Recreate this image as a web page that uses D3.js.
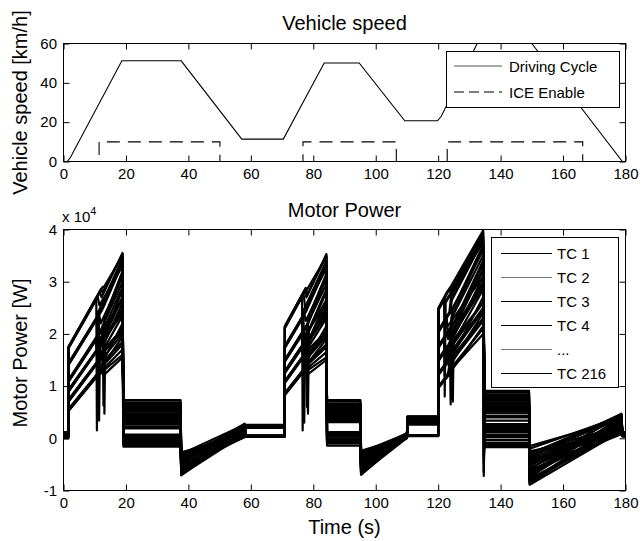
<!DOCTYPE html>
<html>
<head>
<meta charset="utf-8">
<script src="https://cdnjs.cloudflare.com/ajax/libs/d3/7.8.5/d3.min.js"></script>
<style>
  body { margin: 0; background: #fff; }
  svg text { font-family: "Liberation Sans", Arial, sans-serif; fill: #000; }
</style>
</head>
<body>
<div id="chart"></div>
<script>
// ---- vehicle speed (top plot) ----
var speedTime = [0, 1.2, 2.2, 18.7, 37.7, 57.1, 70.4, 83.5, 94.7, 109.3, 119.8, 121.0, 132.5, 134.2, 148.6, 150.0, 179.0, 180];
var speedValue = [0, 0, 2, 51.2, 51.2, 11.4, 11.4, 50.1, 50.1, 20.7, 20.7, 23.0, 60, 64, 64, 60, 0, 0];

var iceTime = [0, 11.4, 11.4, 50.1, 50.1, 76.7, 76.7, 106.6, 106.6, 122.9, 122.9, 166.3, 166.3, 180];
var iceValue = [0, 0, 10, 10, 0, 0, 10, 10, 0, 0, 10, 10, 0, 0];

var speedTicksX = [0, 20, 40, 60, 80, 100, 120, 140, 160, 180];
var speedTicksY = [0, 20, 40, 60];
var powerTicksY = [-10000, 0, 10000, 20000, 30000, 40000];

// ---- motor power (bottom plot), one value per drawn test case ----
// phase time spans [start, end] in s
var startSpan = [0, 1.5];
var accel1Span = [1.6, 18.9];
var cruise1Span = [19.2, 37.5];
var decel1Span = [37.7, 58.0];
var cruise2Span = [58.3, 70.8];
var accel2Span = [70.9, 84.2];
var cruise3Span = [84.4, 95.1];
var decel2Span = [95.3, 110.0];
var cruise4Span = [110.2, 120.0];
var accel3Span = [120.1, 134.4];
var cruise5Span = [134.6, 149.1];
var decel3Span = [149.3, 178.7];
var endSpan = [179.0, 180];

var startPower = [200, 400, 600, 800, 1000, 1200, 300, 500, 700, 900, 1100, 0, 250, 450, 650, 850, 1050, 150, 350, 550,
  100, 300, 500, 700, 900, 1100, 200, 400, 600, 800, 1000, 1200];

var accel1Start = [5300, 5400, 5600, 5300, 7200, 7300, 7100, 9100, 9200, 9000, 11000, 11100, 10900, 11000, 14200, 14300, 14100, 17400, 17300, 17500,
  5500, 7000, 7400, 9300, 8900, 10800, 11200, 14000, 14400, 17200, 17600, 5200];
var accel1Ice = [10.4, 11.6, 12.8, 11.0, 10.2, 11.8, 12.4, 10.8, 11.5, 12.9, 10.3, 11.2, 12.0, 12.6, 10.6, 11.4, 12.2, 10.5, 11.7, 12.5,
  11.9, 10.9, 12.3, 10.7, 12.1, 11.3, 12.7, 11.1, 12.3, 11.0, 12.0, 12.2];
var accel1PreIce = [11700, 12700, 13800, 12100, 14000, 15400, 15700, 16900, 17600, 18700, 18900, 19800, 20400, 21100, 22900, 23800, 24400, 26800, 28000, 29000,
  13000, 14400, 15900, 17000, 17900, 19600, 21400, 23200, 24800, 27100, 28600, 12900];
var accel1Dip = [null, null, null, null, null, null, null, null, null, 4700, null, 3400, null, 6300, null, null, null, 1500, null, null,
  null, null, null, null, null, null, null, null, null, null, null, null];
var accel1PostIce = [12000, 13500, 15500, 12500, 14000, 16500, 18000, 13000, 17500, 20000, 15000, 19000, 21500, 23000, 17000, 22000, 25000, 24000, 27000, 29000,
  14500, 16000, 19000, 15500, 20500, 18000, 22500, 20000, 26000, 25500, 28000, 12000];
var accel1End = [16000, 19500, 22000, 17000, 20000, 23500, 26000, 18000, 24500, 28500, 21000, 27000, 30000, 32000, 25000, 31000, 33500, 34500, 35500, 35000,
  18500, 21000, 27000, 20500, 29000, 24000, 31500, 26500, 34000, 33000, 35300, 15500];

var cruise1 = [7300, 6600, 6100, 5600, 5100, 4600, 4100, 3600, 3100, 2600, 2200, 1900, 700, 400, 100, -200, -500, -900, -1300, -1600,
  6900, 6400, 5800, 5300, 4800, 4300, 3800, 3300, 2800, 550, -50, -1100];
var decel1Start = [-2700, -3000, -3300, -3600, -3900, -4200, -4500, -4800, -5100, -5400, -5700, -6000, -6300, -6600, -6900, -7100, -3200, -4000, -5000, -6200,
  -2900, -3500, -4100, -4700, -5300, -5900, -6500, -7000, -3400, -4400, -5600, -6800];
var decel1End = [600, 2600, 1200, 2200, 400, 1800, 900, 2500, 200, 1500, 2000, 700, 2700, 1100, 2300, 1600, 300, 1900, 800, 2400,
  1000, 2100, 500, 2600, 1400, 300, 2300, 800, 1700, 2800, 1300, 1900];
var cruise2 = [2500, 2300, 2100, 2600, 2400, 2200, 2000, 2500, 2300, 2100, 400, 300, 500, 400, 300, 500, 450, 350, 2450, 350,
  2550, 2350, 2150, 400, 300, 2250, 2400, 450, 2050, 350, 2500, 500];

var accel2Start = [8500, 8600, 8400, 8500, 10800, 10900, 10700, 12700, 12800, 12600, 14900, 15000, 14800, 14900, 17500, 17600, 17400, 21300, 21200, 21400,
  8700, 10600, 11000, 12900, 12500, 14700, 15100, 17300, 17700, 21100, 21500, 8300];
var accel2Ice = [76.4, 77.2, 78.0, 76.8, 76.3, 77.4, 77.9, 76.6, 77.0, 78.1, 76.2, 76.9, 77.6, 77.8, 76.5, 77.1, 77.7, 76.4, 77.3, 77.5,
  77.0, 76.7, 77.8, 76.3, 77.5, 76.8, 77.9, 76.6, 77.4, 76.9, 77.6, 77.2];
var accel2PreIce = [12700, 13400, 13800, 13000, 15300, 16300, 16500, 17800, 18300, 19000, 20000, 20700, 21200, 21500, 23200, 23900, 24300, 27400, 28300, 28700,
  13300, 15400, 16700, 17700, 18300, 20200, 21700, 23000, 24200, 27600, 28800, 13000];
var accel2Dip = [null, null, null, null, null, null, null, null, null, 4700, null, 3000, null, 6000, null, null, null, 1500, null, null,
  null, null, null, null, null, null, null, null, null, null, null, null];
var accel2PostIce = [12500, 14000, 15500, 13000, 14500, 17000, 18000, 13500, 18000, 20500, 16000, 19500, 22000, 23000, 17500, 22500, 25000, 24500, 27000, 28500,
  14000, 15500, 18500, 15000, 20000, 17500, 22000, 19500, 25500, 25000, 27500, 12000];
var accel2End = [15500, 19000, 21500, 16500, 19500, 23000, 25500, 17500, 24000, 28000, 20500, 26500, 29500, 31500, 24500, 30500, 33000, 34000, 35300, 34800,
  18000, 20500, 26500, 20000, 28500, 23500, 31000, 26000, 33500, 32500, 35000, 15000];

var cruise3 = [7300, 6600, 6200, 5800, 5400, 5000, 4600, 4200, 3800, 3400, 3100, 1200, 900, 600, 300, 0, -300, -700, -1000, -1400,
  7000, 6400, 6000, 5600, 5200, 4800, 4400, 4000, 3600, 1050, 450, -500];
var decel2Start = [-2400, -2700, -3000, -3300, -3600, -3900, -4200, -4500, -4800, -5100, -5400, -5700, -6000, -6300, -6600, -7000, -2900, -3800, -4900, -6100,
  -2600, -3200, -3800, -4400, -5000, -5600, -6200, -6800, -3100, -4100, -5300, -6500];
var decel2End = [300, 900, 100, 700, 500, 1000, 200, 800, 0, 600, 400, 950, 150, 750, 350, 550, 50, 850, 250, 650,
  450, 850, 150, 700, 250, 950, 550, 100, 800, 400, 650, 300];
var cruise4 = [4200, 4000, 3800, 3600, 3400, 3200, 3000, 2800, 2600, 4100, 3700, 3300, 2900, 500, 450, 550, 500, 400, 3900, 600,
  4150, 3950, 3750, 3550, 3350, 3150, 2950, 2750, 450, 550, 4000, 500];

var accel3Start = [9800, 9900, 9700, 9800, 12300, 12400, 12200, 15000, 15100, 14900, 17500, 17600, 17400, 17500, 20500, 20600, 20400, 24800, 24700, 24900,
  10000, 12100, 12500, 15200, 14800, 17300, 17700, 20300, 20700, 24600, 25000, 9600];
var accel3Ice = [122.6, 123.4, 124.3, 123.0, 122.4, 123.6, 124.1, 122.8, 123.2, 124.5, 121.9, 123.1, 123.8, 124.0, 122.7, 123.3, 123.9, 121.9, 123.5, 123.7,
  123.2, 122.5, 123.9, 122.9, 124.1, 123.4, 124.4, 122.6, 123.6, 122.1, 123.0, 123.8];
var accel3PreIce = [11700, 12400, 12900, 12000, 14200, 15300, 15500, 17400, 17800, 18800, 19200, 20400, 20900, 21200, 23100, 23800, 24200, 26800, 28400, 28800,
  12300, 14100, 15600, 17700, 18300, 20400, 21700, 22800, 24200, 26800, 28200, 12400];
var accel3Dip = [null, null, null, null, null, null, null, null, null, 7000, 12000, null, 6500, null, null, null, null, 8000, null, null,
  null, null, 7500, null, null, null, null, null, null, null, null, null];
var accel3PostIce = [12500, 14000, 16000, 13000, 15000, 17500, 19000, 14000, 18500, 21000, 17000, 20500, 23000, 24500, 19000, 24000, 26500, 26000, 28000, 28500,
  15000, 16500, 20000, 16000, 21500, 19000, 24000, 21500, 27000, 26500, 28500, 13000];
var accel3End = [20000, 24000, 27000, 21000, 24500, 28500, 31000, 22500, 29500, 33500, 26000, 32000, 35000, 37000, 30000, 36000, 38000, 38500, 39500, 39000,
  23000, 26000, 32500, 25000, 34000, 29000, 36500, 31000, 38500, 37500, 39800, 21500];

var cruise5 = [9100, 8400, 7800, 7200, 6600, 6000, 5400, 4800, 4300, 3400, 2700, 2200, 1800, 1200, 700, 200, -300, -800, -1300, -1700,
  8800, 8100, 7500, 6900, 6300, 5700, 5100, 4000, 2500, 1500, 400, -1000];
var cruise5Dip = [null, null, null, null, null, -7200, null, null, null, null, null, null, -5000, null, null, null, null, -3500, null, null,
  null, null, null, null, null, null, -6500, null, null, null, null, null];
var decel3Start = [-2500, -2900, -3300, -3700, -4100, -4500, -4900, -5300, -5700, -6100, -6500, -6900, -7300, -7700, -8100, -8500, -8900, -3000, -4700, -1500,
  -2700, -3500, -4300, -5100, -5900, -6700, -7500, -8300, -2000, -3900, -6300, -8700];
var decel3End = [1200, 3800, 2000, 4700, 900, 3000, 1600, 4300, 2500, 800, 3500, 1900, 4100, 1100, 2800, 3300, 1400, 4500, 2200, 3600,
  2400, 4000, 1300, 3200, 4600, 2000, 3900, 1700, 4200, 2700, 1000, 3000];
var endPower = [600, 1100, 800, 1200, 500, 900, 700, 1000, 800, 300, 1000, 700, 1100, 500, 900, 1000, 600, 1200, 800, 1000,
  700, 900, 1100, 500, 800, 1000, 600, 900, 700, 1100, 400, 800];

var speedLegend = ["Driving Cycle", "ICE Enable"];
var powerLegend = ["TC 1", "TC 2", "TC 3", "TC 4", "...", "TC 216"];
var powerLegendColor = ["#000", "#777", "#000", "#000", "#777", "#000"];

// ---- layout ----
var width = 643;
var height = 541;
var plotLeft = 63.5;
var plotRight = 625.5;
var top1 = 43.5, bottom1 = 161.5;
var top2 = 229.5, bottom2 = 490.5;
var tickLen = 6;
var fontFamily = "'Liberation Sans', Arial, sans-serif";

var svg = d3.select("#chart").append("svg")
  .attr("width", width)
  .attr("height", height)
  .style("display", "block");

var x = d3.scaleLinear().domain([0, 180]).range([plotLeft, plotRight]);
var ySpeed = d3.scaleLinear().domain([0, 60]).range([bottom1, top1]);
var yPower = d3.scaleLinear().domain([-10000, 40000]).range([bottom2, top2]);

var defs = svg.append("defs");
defs.append("clipPath").attr("id", "clipTop").append("rect")
  .attr("x", plotLeft).attr("y", top1).attr("width", plotRight - plotLeft).attr("height", bottom1 - top1);
defs.append("clipPath").attr("id", "clipBottom").append("rect")
  .attr("x", plotLeft).attr("y", top2).attr("width", plotRight - plotLeft).attr("height", bottom2 - top2);

// box + inward ticks on all four sides
function drawFrame(yScale, yTicks, yFormat, top, bottom) {
  var g = svg.append("g");

  var axes = [
    g.append("g").attr("transform", "translate(0," + bottom + ")")
      .call(d3.axisBottom(x).tickValues(speedTicksX).tickSize(-tickLen).tickPadding(7).tickFormat(d3.format("d"))),
    g.append("g").attr("transform", "translate(0," + top + ")")
      .call(d3.axisTop(x).tickValues(speedTicksX).tickSize(-tickLen).tickFormat("")),
    g.append("g").attr("transform", "translate(" + plotLeft + ",0)")
      .call(d3.axisLeft(yScale).tickValues(yTicks).tickSize(-tickLen).tickPadding(6.5).tickFormat(yFormat)),
    g.append("g").attr("transform", "translate(" + plotRight + ",0)")
      .call(d3.axisRight(yScale).tickValues(yTicks).tickSize(-tickLen).tickFormat(""))
  ];
  axes.forEach(function (a) {
    a.attr("font-size", 15).attr("font-family", fontFamily);
  });

  g.selectAll(".domain").remove();
  g.selectAll(".tick line").attr("stroke", "#000");
  g.selectAll(".tick text").attr("fill", "#000");

  g.append("rect")
    .attr("x", plotLeft).attr("y", top)
    .attr("width", plotRight - plotLeft).attr("height", bottom - top)
    .attr("fill", "none").attr("stroke", "#000").attr("stroke-width", 1);
}

// ---- top plot: vehicle speed ----
var speedLine = d3.line()
  .x(function (d) { return x(d[0]); })
  .y(function (d) { return ySpeed(d[1]); });

var speedPts = speedTime.map(function (t, i) { return [t, speedValue[i]]; });
var icePts = iceTime.map(function (t, i) { return [t, iceValue[i]]; });

var gTop = svg.append("g").attr("clip-path", "url(#clipTop)");
gTop.append("path").datum(speedPts).attr("d", speedLine)
  .attr("fill", "none").attr("stroke", "#000").attr("stroke-width", 1.1);
gTop.append("path").datum(icePts).attr("d", speedLine)
  .attr("fill", "none").attr("stroke", "#000").attr("stroke-width", 1.1)
  .attr("stroke-dasharray", "13,8");

drawFrame(ySpeed, speedTicksY, d3.format("d"), top1, bottom1);

// ---- bottom plot: motor power traces ----
function accelPoints(pts, span, start, ice, pre, dip, post, end, i) {
  pts.push([span[0], start[i]], [ice[i], pre[i]]);
  if (dip[i] !== null) pts.push([ice[i] + 0.2, dip[i]]);
  pts.push([ice[i] + 0.5, post[i]], [span[1], end[i]]);
}

var motorTraces = d3.range(startPower.length).map(function (i) {
  var pts = [];
  pts.push([startSpan[0], startPower[i]], [startSpan[1], startPower[i]]);
  accelPoints(pts, accel1Span, accel1Start, accel1Ice, accel1PreIce, accel1Dip, accel1PostIce, accel1End, i);
  pts.push([cruise1Span[0], cruise1[i]], [cruise1Span[1], cruise1[i]]);
  pts.push([decel1Span[0], decel1Start[i]], [decel1Span[1], decel1End[i]]);
  pts.push([cruise2Span[0], cruise2[i]], [cruise2Span[1], cruise2[i]]);
  accelPoints(pts, accel2Span, accel2Start, accel2Ice, accel2PreIce, accel2Dip, accel2PostIce, accel2End, i);
  pts.push([cruise3Span[0], cruise3[i]], [cruise3Span[1], cruise3[i]]);
  pts.push([decel2Span[0], decel2Start[i]], [decel2Span[1], decel2End[i]]);
  pts.push([cruise4Span[0], cruise4[i]], [cruise4Span[1], cruise4[i]]);
  accelPoints(pts, accel3Span, accel3Start, accel3Ice, accel3PreIce, accel3Dip, accel3PostIce, accel3End, i);
  if (cruise5Dip[i] !== null) pts.push([cruise5Span[0], cruise5Dip[i]]);
  pts.push([cruise5Span[0] + 0.3, cruise5[i]], [cruise5Span[1], cruise5[i]]);
  pts.push([decel3Span[0], decel3Start[i]], [decel3Span[1], decel3End[i]]);
  pts.push([endSpan[0], endPower[i]], [endSpan[1], endPower[i]]);
  return pts;
});

var powerLine = d3.line()
  .x(function (d) { return x(d[0]); })
  .y(function (d) { return yPower(d[1]); });

var gBottom = svg.append("g").attr("clip-path", "url(#clipBottom)");
gBottom.selectAll("path.tc").data(motorTraces).enter().append("path")
  .attr("class", "tc")
  .attr("d", powerLine)
  .attr("fill", "none")
  .attr("stroke", "#000")
  .attr("stroke-width", 2.2)
  .attr("stroke-linejoin", "round");

drawFrame(yPower, powerTicksY, function (v) { return String(v / 10000); }, top2, bottom2);

// ---- legends ----
var leg1 = svg.append("g").attr("font-size", 15).attr("font-family", fontFamily);
leg1.append("rect").attr("x", 446.5).attr("y", 51.5).attr("width", 173).attr("height", 56)
  .attr("fill", "#fff").attr("stroke", "#000").attr("stroke-width", 1);
speedLegend.forEach(function (name, i) {
  var yy = 66 + i * 26;
  leg1.append("line").attr("x1", 454).attr("x2", 502).attr("y1", yy).attr("y2", yy)
    .attr("stroke", i === 0 ? "#555" : "#000").attr("stroke-width", 1)
    .attr("stroke-dasharray", i === 1 ? "10,5" : null);
  leg1.append("text").attr("x", 509).attr("y", yy + 5.5).text(name);
});

var leg2 = svg.append("g").attr("font-size", 15).attr("font-family", fontFamily);
leg2.append("rect").attr("x", 491.5).attr("y", 237.5).attr("width", 127).attr("height", 150)
  .attr("fill", "#fff").attr("stroke", "#000").attr("stroke-width", 1);
powerLegend.forEach(function (name, i) {
  var yy = 253.5 + i * 24;
  leg2.append("line").attr("x1", 501).attr("x2", 552).attr("y1", yy).attr("y2", yy)
    .attr("stroke", powerLegendColor[i]).attr("stroke-width", 1);
  leg2.append("text").attr("x", 557).attr("y", yy + 5).text(name);
});

// ---- titles and labels ----
var midX = (plotLeft + plotRight) / 2;
svg.append("text").attr("x", midX).attr("y", 30).attr("text-anchor", "middle")
  .attr("font-size", 20).attr("font-family", fontFamily).text("Vehicle speed");
svg.append("text").attr("x", midX).attr("y", 217).attr("text-anchor", "middle")
  .attr("font-size", 20).attr("font-family", fontFamily).text("Motor Power");
svg.append("text").attr("x", midX).attr("y", 534).attr("text-anchor", "middle")
  .attr("font-size", 20).attr("font-family", fontFamily).text("Time (s)");

svg.append("text").attr("transform", "translate(27," + ((top1 + bottom1) / 2) + ") rotate(-90)")
  .attr("text-anchor", "middle").attr("font-size", 20).attr("font-family", fontFamily)
  .text("Vehicle speed [km/h]");
svg.append("text").attr("transform", "translate(27,353) rotate(-90)")
  .attr("text-anchor", "middle").attr("font-size", 20).attr("font-family", fontFamily)
  .text("Motor Power [W]");

// exponent label
var expo = svg.append("text").attr("x", 62).attr("y", 222)
  .attr("font-size", 15).attr("font-family", fontFamily);
expo.append("tspan").text("x 10");
expo.append("tspan").attr("font-size", 11).attr("dy", -7).text("4");
</script>
</body>
</html>
